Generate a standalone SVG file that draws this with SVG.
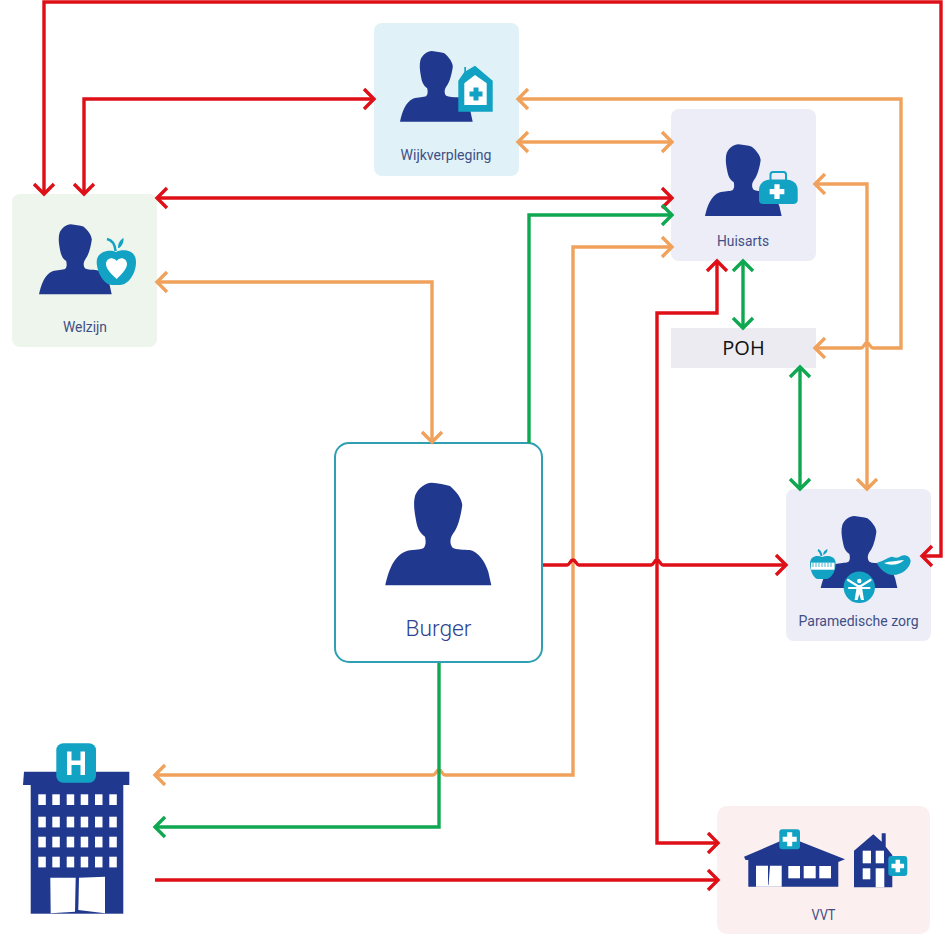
<svg xmlns="http://www.w3.org/2000/svg" width="943" height="935" viewBox="0 0 943 935">
<style>
.card{stroke:none}
.lbl{font-family:Roboto,"Liberation Sans",sans-serif;fill:#3f4f86;text-anchor:middle;font-size:14px}
.navy{fill:#21388f}
.teal{fill:#12a2c4}
.wht{fill:#fff}
.c{fill:none;stroke-width:3.4;stroke-linejoin:miter}
.r{stroke:#de0f17}
.o{stroke:#f0a25c}
.g{stroke:#0fa750}
.rd{marker-end:url(#mr)}
.rs{marker-start:url(#mr)}
.od{marker-end:url(#mo);marker-start:url(#mo)}
.gd{marker-end:url(#mg);marker-start:url(#mg)}
.ge{marker-end:url(#mg)}
</style>
<defs>
<marker id="mr" markerUnits="userSpaceOnUse" markerWidth="28" markerHeight="28" refX="14" refY="14" viewBox="0 0 28 28" orient="auto-start-reverse"><path d="M4,4 L14,14 L4,24" fill="none" stroke="#de0f17" stroke-width="3.400"/></marker>
<marker id="mo" markerUnits="userSpaceOnUse" markerWidth="28" markerHeight="28" refX="14" refY="14" viewBox="0 0 28 28" orient="auto-start-reverse"><path d="M4,4 L14,14 L4,24" fill="none" stroke="#f0a25c" stroke-width="3.400"/></marker>
<marker id="mg" markerUnits="userSpaceOnUse" markerWidth="28" markerHeight="28" refX="14" refY="14" viewBox="0 0 28 28" orient="auto-start-reverse"><path d="M4,4 L14,14 L4,24" fill="none" stroke="#0fa750" stroke-width="3.400"/></marker>
<path id="person" class="navy" d="M0,308 C9,267 24,222 59,207 C79,200 104,202 114,197 C124,187 121,172 119,162 C104,152 96,137 92,112 C86,82 84,57 90,37 C99,17 119,0 139,0 C159,2 179,5 194,10 C214,27 229,47 231,67 C227,97 219,132 204,152 C194,167 192,182 202,195 C214,202 234,200 254,202 C279,207 299,237 309,267 L318,308 Z"/>
<path id="plus" class="wht" d="M-2.5,-7 H2.5 V-2.5 H7 V2.5 H2.5 V7 H-2.5 V2.5 H-7 V-2.5 H-2.5 Z"/>
</defs>
<rect width="943" height="935" fill="#fff"/>

<g id="node-wijkverpleging">
<rect class="card" x="374" y="23" width="145" height="153" rx="8" fill="#e0f2f8"/>
<use href="#person" transform="translate(400,51) scale(.2286,.2295)"/>
<path class="teal" d="M458.3,80.7 L464.3,72 V67 H466 V71 L475,65.7 L492.7,80.7 V111.7 H458.3 Z"/>
<path class="wht" d="M464.3,83.3 L475,75 L486.7,83.3 V105 H464.3 Z"/>
<path class="teal" d="M473.500,87.500 H478.500 V91.500 H482.500 V96.500 H478.500 V100.500 H473.500 V96.500 H469.500 V91.500 H473.500 Z"/>
<text class="lbl" x="446" y="160" textLength="91" lengthAdjust="spacingAndGlyphs">Wijkverpleging</text>
</g>

<g id="node-huisarts">
<rect class="card" x="671" y="109" width="145" height="152" rx="8" fill="#ecedf7"/>
<use href="#person" transform="translate(705,144.300) scale(.241,.233)"/>
<rect x="770.500" y="172" width="15.500" height="10" rx="2.500" fill="none" stroke="#12a2c4" stroke-width="2"/>
<path class="teal" d="M759,200 V190 C759,183 765,179.500 771,179.500 H786 C792,179.500 797.700,183 797.700,190 V200 C797.700,203 795,204 793,204 H763 C761,204 759,203 759,200 Z"/>
<use href="#plus" transform="translate(777,191.700) scale(1.05)"/>
<text class="lbl" x="743" y="246" textLength="52" lengthAdjust="spacingAndGlyphs">Huisarts</text>
</g>

<g id="node-poh">
<rect class="card" x="671" y="328" width="145" height="40" fill="#ebebf1"/>
<text x="743.500" y="355" text-anchor="middle" font-family="'Open Sans','Noto Sans',sans-serif" font-size="20" fill="#111">POH</text>
</g>

<g id="node-welzijn">
<rect class="card" x="12" y="194" width="145" height="153" rx="8" fill="#edf5ec"/>
<use href="#person" transform="translate(39,224.300) scale(.2286,.227)"/>
<path d="M107,239 C112,240 115,245 115.500,251" fill="none" stroke="#12a2c4" stroke-width="2.500"/>
<path class="teal" d="M118,248 C118,243 120,240 123.500,238 C124,242 122,246 119,248 Z"/>
<path class="teal" d="M116,252 C122,249 136,249 136,262 C136,274 128,285 120,285 C118,285 114,285 112,285 C104,285 96.700,272 96.700,262 C96.700,251 110,249 116,252 Z"/>
<path class="wht" d="M116.700,279 C110,273 106,268 106,264 C106,258 113,256 116.700,261 C120,256 127,258 127,264 C127,268 123,273 116.700,279 Z"/>
<text class="lbl" x="85" y="332" textLength="44" lengthAdjust="spacingAndGlyphs">Welzijn</text>
</g>

<g id="node-burger">
<rect x="335" y="443" width="207" height="219" rx="14" fill="#fff" stroke="#2f9fb4" stroke-width="2"/>
<use href="#person" transform="translate(385.300,482.700) scale(.3333)"/>
<text x="438.500" y="636" text-anchor="middle" font-family="Roboto,'Liberation Sans',sans-serif" font-size="22" font-weight="300" fill="#2d4390" textLength="66" lengthAdjust="spacingAndGlyphs">Burger</text>
</g>

<g id="node-paramedische-zorg">
<rect class="card" x="786" y="489" width="145" height="152" rx="8" fill="#ededf7"/>
<use href="#person" transform="translate(820.700,516) scale(.241,.234)"/>
<path d="M821.500,556 C821,553 820,551 818,550" fill="none" stroke="#12a2c4" stroke-width="2"/>
<path class="teal" d="M823,555 C823,552 825,550 827.500,549 C827.500,552 826,554 823,555 Z"/>
<path class="teal" d="M822,557 C828,555 836,556 835.700,564 C835.500,572 831,579 826,579 H818 C814,579 810,571 810,564 C810,556 817,555 822,557 Z"/>
<rect class="wht" x="811" y="562.700" width="23.500" height="7"/>
<path d="M813,563 V567 M816,563 V567 M819,563 V567 M822,563 V567 M825,563 V567 M828,563 V567 M831,563 V567" stroke="#12a2c4" stroke-width=".8"/>
<path class="teal" d="M876.700,563 C884,561 890,556 893,557 C896,558 898,558 901,556 C905,554 910,556 910.700,561 C910,568 902,575 893,575 C886,575 880,569 876.700,563 Z"/>
<path class="wht" d="M884,563 C890,561 898,561 904,560 C900,565 890,566 884,563 Z"/>
<circle class="teal" cx="859.300" cy="587.300" r="15.700"/>
<g fill="none" stroke="#fff" stroke-linecap="round">
<path stroke-width="2.200" d="M848,580 L859.300,587 L870.500,580 M849,588 H869.500"/>
<path fill="#fff" stroke="none" d="M857,585 H861.600 L864,600 H861 L859.300,594 L857.600,600 H854.600 Z"/>
<circle cx="859.300" cy="581" r="2.200" fill="#fff" stroke="none"/>
</g>
<text class="lbl" x="858.500" y="626" textLength="120" lengthAdjust="spacingAndGlyphs">Paramedische zorg</text>
</g>

<g id="node-ziekenhuis">
<rect class="navy" x="30.700" y="783" width="92.600" height="130.700"/>
<path class="navy" d="M24,771.700 H129.300 V785 H23 Z"/>
<rect class="teal" x="56.300" y="743.300" width="39.700" height="39.400" rx="7"/>
<path class="wht" d="M67,751.500 H71.500 V760.500 H80.500 V751.500 H85 V775 H80.500 V765 H71.500 V775 H67 Z"/>
<g class="wht">
<rect x="38.300" y="794.300" width="7.500" height="10.700"/><rect x="52.300" y="794.300" width="7.500" height="10.700"/><rect x="66.700" y="794.300" width="7.500" height="10.700"/><rect x="80.700" y="794.300" width="7.500" height="10.700"/><rect x="95" y="794.300" width="7.500" height="10.700"/><rect x="109.300" y="794.300" width="7.500" height="10.700"/>
<rect x="38.300" y="816.700" width="7.500" height="10.700"/><rect x="52.300" y="816.700" width="7.500" height="10.700"/><rect x="66.700" y="816.700" width="7.500" height="10.700"/><rect x="80.700" y="816.700" width="7.500" height="10.700"/><rect x="95" y="816.700" width="7.500" height="10.700"/><rect x="109.300" y="816.700" width="7.500" height="10.700"/>
<rect x="38.300" y="836.700" width="7.500" height="10.700"/><rect x="52.300" y="836.700" width="7.500" height="10.700"/><rect x="66.700" y="836.700" width="7.500" height="10.700"/><rect x="80.700" y="836.700" width="7.500" height="10.700"/><rect x="95" y="836.700" width="7.500" height="10.700"/><rect x="109.300" y="836.700" width="7.500" height="10.700"/>
<rect x="38.300" y="856.700" width="7.500" height="10.700"/><rect x="52.300" y="856.700" width="7.500" height="10.700"/><rect x="66.700" y="856.700" width="7.500" height="10.700"/><rect x="80.700" y="856.700" width="7.500" height="10.700"/><rect x="95" y="856.700" width="7.500" height="10.700"/><rect x="109.300" y="856.700" width="7.500" height="10.700"/>
<path d="M50.300,877.700 H75.700 L75,911.700 L50.700,913.300 Z"/>
<path d="M79,877.700 L105,876.700 V913.300 L78.300,910 Z"/>
</g>
</g>

<g id="node-vvt">
<rect class="card" x="717" y="806" width="213" height="128" rx="10" fill="#fcefef"/>
<path class="navy" d="M744,856.700 L789.300,837.300 L845,859.300 L838.300,862 V886.700 H748.300 V860 L745.500,860 Z"/>
<path class="wht" d="M756,865.700 H768 V885 H768.500 L770,865.700 H781.700 V886.700 H756 Z"/>
<rect class="wht" x="788.300" y="866" width="11.700" height="12.300"/>
<rect class="wht" x="803.700" y="866" width="12" height="12.300"/>
<rect class="wht" x="819.300" y="866" width="11.700" height="12.300"/>
<rect class="teal" x="779.300" y="829.300" width="20.700" height="20" rx="3"/>
<use href="#plus" transform="translate(789.700,839.300)"/>
<path class="navy" d="M854,850.700 L873.300,834.300 L881.700,841.700 V833.300 H885.700 V846.700 L892.300,855 V887.300 H854 Z"/>
<rect class="wht" x="862.700" y="850.700" width="8.300" height="12.600"/>
<rect class="wht" x="875.700" y="850.700" width="8.300" height="12.600"/>
<rect class="wht" x="862.700" y="868.300" width="7.600" height="11"/>
<rect class="wht" x="875.700" y="868.300" width="8.600" height="19"/>
<rect class="teal" x="888.300" y="856" width="19" height="20" rx="3"/>
<use href="#plus" transform="translate(897.800,866) scale(.9)"/>
<text class="lbl" x="823.500" y="920" textLength="24" lengthAdjust="spacingAndGlyphs">VVT</text>
</g>

<g id="connectors">
<path class="c r rd rs" d="M44,194 V2 H941 V556 H922"/>
<path class="c r rd rs" d="M84,194 V99 H374"/>
<path class="c r rd rs" d="M157,198 H672"/>
<path class="c g ge" d="M529,443 V215 H672"/>
<path class="c o od" d="M157,282 H432 V442"/>
<path class="c o od" d="M155,775 H433 C436,775 436,770 439,770 C442,770 442,775 445,775 H573 V247 H672"/>
<path class="c g ge" d="M439,663 V827 H155"/>
<path class="c r rd" d="M155,880 H718"/>
<path class="c r rd" d="M543,565 H567 C570,565 570,560 573,560 C576,560 576,565 579,565 H651 C654,565 654,560 657,560 C660,560 660,565 663,565 H786"/>
<path class="c r rd rs" d="M717,261 V313 H657 V843 H718"/>
<path class="c g gd" d="M743,261 V328"/>
<path class="c g gd" d="M800,367 V489"/>
<path class="c o od" d="M518,99 H901 V348 H873 C870,348 870,343 867,343 C864,343 864,348 861,348 H815"/>
<path class="c o od" d="M518,142 H672"/>
<path class="c o od" d="M815,184 H867 V489"/>
</g>
</svg>
